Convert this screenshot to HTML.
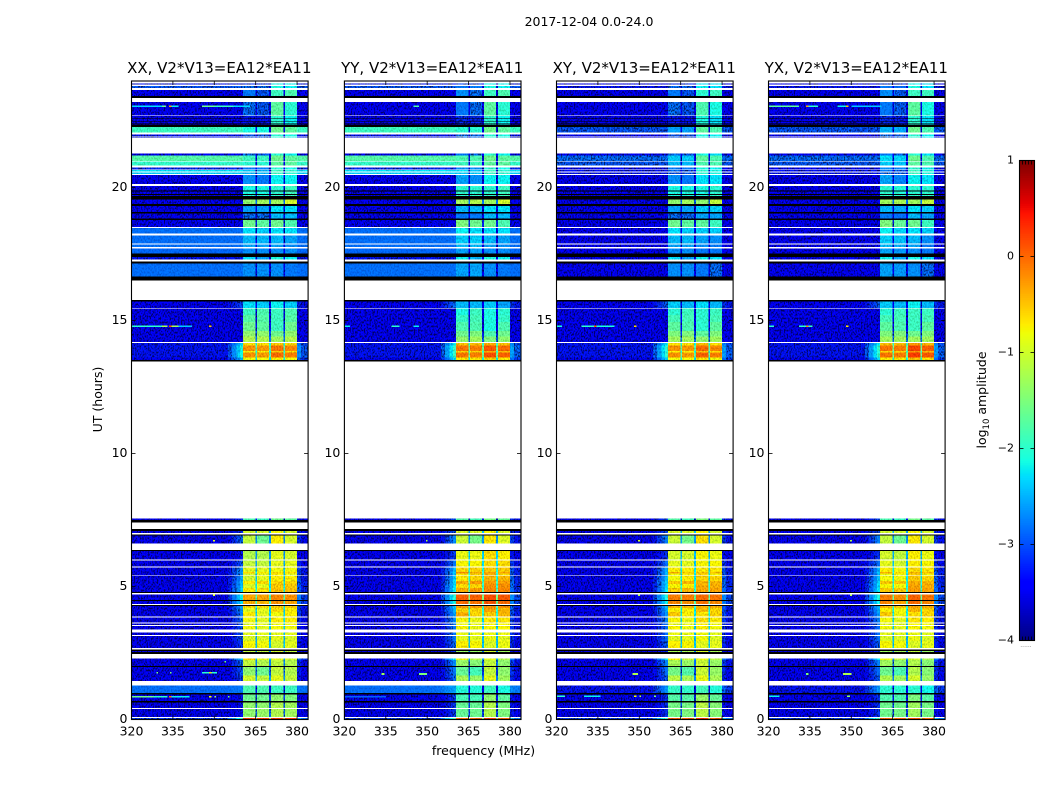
<!DOCTYPE html>
<html lang="en">
<head>
<meta charset="utf-8">
<title>2017-12-04 amplitude waterfall</title>
<style>
html,body{margin:0;padding:0;background:#fff;width:1050px;height:800px;overflow:hidden}
svg{display:block;font-family:"DejaVu Sans","Liberation Sans",sans-serif;fill:#000}
</style>
</head>
<body>
<svg id="figure" width="1050" height="800" viewBox="0 0 1050 800" xmlns="http://www.w3.org/2000/svg">
<defs>
<filter id="grain" filterUnits="userSpaceOnUse" x="0" y="0" width="1050" height="800" color-interpolation-filters="sRGB">
<feTurbulence type="fractalNoise" baseFrequency="0.7 0.5" numOctaves="2" seed="4" result="t"/>
<feColorMatrix in="t" type="matrix" values="3 0 0 0 -1  3 0 0 0 -1  3 0 0 0 -1  0 0 0 0 1" result="n"/>
<feComposite in="SourceGraphic" in2="n" operator="arithmetic" k1="1" k2="0.4" k3="0" k4="0" result="lit"/>
<feTurbulence type="fractalNoise" baseFrequency="0.6 0.45" numOctaves="2" seed="11" result="t2"/>
<feColorMatrix in="t2" type="matrix" values="0 0 0 0 0  4.5 0 0 0 -2.35  0 0 0 0 0  0 0 0 0 0" result="g"/>
<feComposite in="lit" in2="g" operator="arithmetic" k1="0" k2="1" k3="1" k4="0"/>
</filter>
<filter id="grain-soft" filterUnits="userSpaceOnUse" x="0" y="0" width="1050" height="800" color-interpolation-filters="sRGB">
<feTurbulence type="fractalNoise" baseFrequency="0.7 0.5" numOctaves="2" seed="7" result="t"/>
<feColorMatrix in="t" type="matrix" values="3 0 0 0 -1  3 0 0 0 -1  3 0 0 0 -1  0 0 0 0 1" result="n"/>
<feComposite in="SourceGraphic" in2="n" operator="arithmetic" k1="0.3" k2="0.85" k3="0" k4="0"/>
</filter>
</defs>
<text x="589" y="26" font-size="12.5" text-anchor="middle">2017-12-04 0.0-24.0</text>
<text x="483.5" y="755" font-size="12.5" text-anchor="middle">frequency (MHz)</text>
<text transform="translate(102,399.5) rotate(-90)" font-size="12.5" text-anchor="middle">UT (hours)</text>
<text transform="translate(986,400) rotate(-90)" font-size="12.5" text-anchor="middle">log<tspan font-size="8.5" dy="3">10</tspan><tspan dy="-3"> amplitude</tspan></text>
<g id="panels"></g>
<g id="colorbar"></g>
</svg>
<script>
const panelTitles = ["XX, V2*V13=EA12*EA11", "YY, V2*V13=EA12*EA11", "XY, V2*V13=EA12*EA11", "YX, V2*V13=EA12*EA11"];
const freqTicks = [320, 335, 350, 365, 380];
const hourTicks = [0, 5, 10, 15, 20];
const colorTicks = [-4, -3, -2, -1, 0, 1];
const colorTickLabels = ["\u22124", "\u22123", "\u22122", "\u22121", "0", "1"];

// Each band: [start hour, end hour, background (XX/YY), background (XY/YX), shoulder, ch1, ch2, ch3, ch4] in log10 amplitude
const upperBands = [
[23.91,23.86,-3.3,-3.4,-3.3,-3.2,-3.2,-2.2,-2.2],
[23.81,23.74,-3.0,-3.3,-3.0,-2.9,-2.9,-2.1,-2.2],
[23.66,23.44,-3.4,-3.5,-3.3,-2.8,-3.0,-1.9,-1.8],
[23.21,22.71,-3.4,-3.4,-3.3,-2.9,-3.0,-1.7,-2.0],
[22.68,22.35,-3.5,-3.5,-3.5,-3.3,-3.3,-2.0,-2.2],
[22.28,22.06,-1.9,-3.0,-2.0,-2.1,-2.1,-1.6,-1.7],
[21.98,21.94,-3.3,-3.4,-3.2,-3.0,-3.0,-2.0,-2.1],
[21.91,21.88,-3.3,-3.4,-3.2,-3.0,-3.0,-2.0,-2.1],
[21.28,21.20,-3.4,-3.5,-3.3,-2.9,-3.0,-2.0,-2.2],
[21.20,21.00,-1.75,-2.9,-1.8,-1.9,-1.9,-1.6,-1.7],
[20.97,20.83,-1.95,-3.0,-2.0,-2.0,-2.0,-1.7,-1.7],
[20.75,20.68,-3.2,-3.4,-3.1,-2.8,-2.8,-2.0,-2.1],
[20.65,20.60,-2.3,-3.3,-2.4,-2.4,-2.5,-1.9,-2.0],
[20.56,20.50,-2.4,-3.3,-2.5,-2.5,-2.5,-1.9,-2.0],
[20.46,20.12,-3.4,-3.5,-3.3,-2.7,-2.8,-2.2,-2.2],
[20.05,19.67,-3.5,-3.5,-3.4,-2.1,-2.1,-2.0,-1.9],
[19.55,19.37,-3.4,-3.5,-3.3,-1.4,-1.3,-1.3,-1.0],
[19.30,19.08,-3.5,-3.5,-3.4,-2.6,-2.6,-2.3,-2.3],
[19.02,18.83,-3.5,-3.5,-3.5,-2.9,-2.9,-2.5,-2.5],
[18.77,18.52,-3.4,-3.5,-3.3,-1.6,-1.7,-1.6,-1.8],
[18.48,18.27,-2.85,-3.4,-2.8,-2.3,-2.4,-2.3,-2.3],
[18.20,17.89,-2.85,-3.4,-2.8,-2.5,-2.5,-2.5,-2.6],
[17.85,17.77,-2.85,-3.4,-2.8,-2.6,-2.6,-2.6,-2.7],
[17.70,17.52,-2.88,-3.4,-2.88,-2.7,-2.7,-2.7,-2.7],
[17.39,17.29,-3.3,-3.5,-3.2,-2.3,-2.6,-2.1,-2.2],
[17.14,16.66,-2.85,-3.4,-2.8,-2.7,-2.7,-2.7,-2.8]
];
const middleBands = [
[15.71,15.47,-3.4,-3.4,-3.1,-2.3,-2.4,-2.2,-2.4],
[15.44,15.20,-3.5,-3.5,-3.5,-1.9,-1.8,-1.9,-1.8],
[15.20,14.95,-3.5,-3.5,-3.5,-1.75,-1.75,-1.9,-1.75],
[14.95,14.60,-3.5,-3.5,-3.5,-1.6,-1.7,-1.9,-1.6],
[14.60,14.40,-3.5,-3.5,-3.5,-1.4,-1.4,-1.6,-1.4],
[14.40,14.19,-3.5,-3.5,-3.4,-1.2,-1.2,-1.3,-1.2],
[14.16,14.05,-3.3,-3.3,-2.4,-0.6,-0.6,-0.5,-0.6],
[14.05,13.85,-3.3,-3.3,-2.1,-0.2,-0.25,-0.05,-0.15],
[13.85,13.80,-3.3,-3.3,-2.2,-0.7,-0.7,-0.5,-0.6],
[13.80,13.60,-3.3,-3.3,-2.1,-0.2,-0.25,0,-0.1],
[13.60,13.52,-3.4,-3.4,-2.5,-0.8,-0.8,-0.7,-0.8]
];
const lowerBands = [
[7.55,7.49,-3.4,-3.4,-3.2,-1.8,-1.9,-1.6,-1.7],
[7.09,7.01,-3.4,-3.4,-3.2,-1.0,-1.0,-0.8,-1.0],
[6.91,6.61,-3.5,-3.5,-2.9,-1.1,-1.6,-0.7,-1.0],
[6.33,6.01,-3.5,-3.5,-3.3,-1.2,-1.2,-0.9,-1.0],
[5.97,5.76,-3.5,-3.5,-3.0,-1.1,-1.1,-0.9,-0.9],
[5.71,5.55,-3.5,-3.5,-2.7,-0.9,-0.9,-0.8,-0.8],
[5.55,5.48,-3.5,-3.5,-2.6,-0.55,-0.7,-0.6,-0.6],
[5.48,5.42,-3.5,-3.5,-2.7,-1.0,-0.9,-0.7,-0.9],
[5.39,5.20,-3.5,-3.5,-2.6,-1.0,-0.9,-0.7,-0.7],
[5.20,5.10,-3.5,-3.5,-2.5,-0.7,-0.6,-0.55,-0.55],
[5.10,4.95,-3.5,-3.5,-2.5,-0.95,-0.9,-0.5,-0.5],
[4.95,4.79,-3.5,-3.5,-2.4,-0.7,-0.6,-0.45,-0.45],
[4.70,4.50,-3.4,-3.4,-2.2,-0.3,-0.3,-0.15,-0.2],
[4.46,4.35,-3.4,-3.4,-2.3,-0.35,-0.4,-0.2,-0.3],
[4.27,4.20,-3.5,-3.5,-2.6,-0.6,-0.6,-0.5,-0.5],
[4.20,4.05,-3.5,-3.5,-2.7,-0.9,-0.9,-0.6,-0.7],
[4.05,3.87,-3.5,-3.5,-2.8,-0.7,-0.9,-0.8,-0.7],
[3.84,3.64,-3.5,-3.5,-2.9,-0.8,-0.9,-0.7,-0.7],
[3.60,3.55,-3.5,-3.5,-3.0,-0.9,-0.9,-0.8,-0.8],
[3.51,3.39,-3.5,-3.5,-3.0,-0.8,-0.9,-0.8,-0.8],
[3.27,3.17,-3.5,-3.5,-3.0,-0.9,-0.9,-0.9,-0.9],
[3.13,2.95,-3.5,-3.5,-3.0,-0.95,-0.95,-0.9,-0.95],
[2.95,2.68,-3.5,-3.5,-3.1,-0.75,-0.8,-1.0,-0.9],
[2.58,2.53,-3.5,-3.5,-3.3,-1.1,-1.1,-1.0,-1.1],
[2.29,2.24,-3.4,-3.4,-2.4,-0.6,-0.9,-0.9,-1.0],
[2.24,2.02,-3.5,-3.5,-2.9,-1.1,-1.2,-1.1,-1.2],
[1.97,1.65,-3.5,-3.5,-3.0,-1.4,-1.6,-1.1,-1.2],
[1.65,1.44,-3.5,-3.5,-3.1,-1.0,-1.1,-0.9,-1.1],
[1.28,0.99,-2.85,-3.3,-2.8,-1.8,-1.8,-1.9,-1.9],
[0.94,0.69,-3.5,-3.5,-3.3,-1.6,-1.6,-1.4,-1.5],
[0.64,0.44,-3.5,-3.5,-3.3,-1.4,-1.4,-1.2,-1.3],
[0.40,0.09,-3.5,-3.5,-3.3,-1.4,-1.35,-1.2,-1.3],
[0.05,0.00,-3.1,-3.1,-2.0,0.25,0.25,0.25,0.25]
];
// Fully black flagged rows: [start hour, end hour]
const blackBands = [
[23.44,23.36],[22.60,22.57],[22.50,22.47],[22.40,22.37],[22.35,22.28],[19.88,19.85],[19.75,19.72],
[19.67,19.55],[19.37,19.30],[19.08,19.02],[18.83,18.77],[17.52,17.39],[17.22,17.14],[16.66,16.51],
[15.76,15.71],[13.52,13.45],[7.49,7.41],[7.16,7.09],[6.96,6.91],[6.38,6.33],[4.79,4.75],[4.50,4.46],
[4.31,4.27],[2.63,2.58],[2.53,2.47],[2.02,1.97],[0.99,0.94],[0.69,0.64]
];
// Per-polarisation channel offsets: upper, middle-cool, middle-hot, lower-hot, lower, lower-cool
const xxOffsets = [[0,0,0,0],[0,0,0,0],[0,0,0,0],[0,0,0,0],[0,0,0,0],[0,0,0,0]];
const yyOffsets = [[0.1,0.1,0,0],[-0.2,-0.1,-0.2,-0.2],[0.15,0.15,0.15,0.15],[0.35,0.35,0.3,0.3],[0.05,0.05,0.05,0.05],[-0.25,-0.25,0,-0.2]];
const xyOffsets = [[0,0,-0.1,-0.1],[-0.1,-0.1,-0.1,-0.1],[0,0,0.05,0],[0.2,0.2,0.15,0.15],[0.05,0.05,0.1,0],[-0.15,-0.15,0.05,-0.15]];
const yxOffsets = [[0.1,0.05,0,-0.1],[-0.1,-0.1,0,-0.1],[0.15,0.15,0.25,0.2],[0.2,0.1,0.2,0.15],[0,0,0.05,0],[-0.2,-0.2,-0.1,-0.25]];
const shoulderOffsets = [0, 0.2, 0.15, 0.15];
// Narrow interference: [hour, start MHz, end MHz, value]
const xxRfi = [[23.05,320,331,-2.3],[23.05,331,332.5,-1.6],[23.05,333.5,334.5,-0.3],[23.05,334.5,337,-2.2],[23.05,345.5,350,-1.6],[23.05,350,357,-1.9],[23.05,357,363,-2.3],[14.78,320,331,-2.0],[14.78,331,333,-1.2],[14.78,333.5,334.5,0.2],[14.78,334.5,337,-1.3],[14.78,337,342,-2.4],[14.78,348,349,-0.5],[6.72,349.6,350.2,-0.9],[4.67,349.6,350.2,-0.9],[2.17,353.7,354.3,-1.6],[1.75,329,329.6,-1.5],[1.75,334,334.5,-1.5],[1.75,345.5,351,-2.0],[1.75,348,349,-0.6],[0.85,320,328,-1.6],[0.85,328,333,-2.0],[0.85,333.5,334.5,0],[0.85,334.5,341,-2.2],[0.85,348,349,-0.8],[0.85,350,350.7,-1.3],[0.85,355,355.6,-1.5]];
const yyRfi = [[23.05,345,347,-1.8],[14.78,320,322,-2.2],[14.78,337,340,-2.0],[14.78,345,347,-2.2],[6.72,349.6,350.2,-1.2],[1.71,333.5,334.5,-1.3],[1.71,347,350,-1.5],[0.85,320,335,-2.9]];
const xyRfi = [[14.78,320,322,-2.1],[14.78,329,333.5,-2.0],[14.78,333.5,334.5,0.1],[14.78,334.5,341,-2.1],[14.78,348,349,-0.6],[6.72,349.6,350.2,-1.0],[4.67,349.6,350.2,-1.2],[1.71,347.5,349.5,-1.2],[0.88,348,349,-0.8],[0.88,350,350.6,-1.2],[0.88,355.4,356,-1.5],[0.88,320,323,-2.0],[0.88,330,336,-2.2]];
const yxRfi = [[23.05,320,331,-1.7],[23.05,333.5,334.5,-0.3],[23.05,334.5,338,-2.0],[23.05,345,349,-2.2],[23.05,348,349,-0.5],[23.05,350,361,-2.4],[14.78,320,322,-2.0],[14.78,331,333.5,-2.0],[14.78,333.5,334.5,-0.2],[14.78,334.5,336,-2.0],[14.78,348,349,-0.7],[6.72,349.6,350.2,-1.2],[4.67,349.6,350.2,-1.2],[1.71,333.5,334.5,-1.5],[1.71,347,350,-1.2],[0.88,348.5,349.5,-1.4],[0.88,320,324,-2.2]];

const panelOffsets = [xxOffsets, yyOffsets, xyOffsets, yxOffsets];
const panelRfi = [xxRfi, yyRfi, xyRfi, yxRfi];
const panelLeft = [131.5, 344.4, 556.5, 768.5];
const NS = "http://www.w3.org/2000/svg";
const panelsRoot = document.getElementById("panels");
const colorbarRoot = document.getElementById("colorbar");

const plotTop = 81, plotBottom = 719.5, plotWidth = 176.6;
function yScale(hour) { return plotBottom - hour * (plotBottom - plotTop) / 24; }
function xScale(freq, left) { return left + (freq - 320) * plotWidth / 64; }

function ramp(pts, t) {
  for (let i = 1; i < pts.length; i++) {
    if (t <= pts[i][0]) {
      const a = pts[i - 1], b = pts[i];
      return a[1] + (b[1] - a[1]) * (t - a[0]) / (b[0] - a[0]);
    }
  }
  return pts[pts.length - 1][1];
}
function jet(v) {
  const t = Math.max(0, Math.min(1, (v + 4) / 5));
  const r = ramp([[0,0],[0.35,0],[0.66,1],[0.89,1],[1,0.5]], t);
  const g = ramp([[0,0],[0.125,0],[0.375,1],[0.64,1],[0.91,0],[1,0]], t);
  const b = ramp([[0,0.5],[0.11,1],[0.34,1],[0.65,0],[1,0]], t);
  return "rgb(" + Math.round(r * 255) + "," + Math.round(g * 255) + "," + Math.round(b * 255) + ")";
}

function addCell(parent, f0, f1, h0, h1, left, color) {
  const cell = document.createElementNS(NS, "rect");
  
  
  const x0 = xScale(f0, left), x1 = xScale(f1, left);
  cell.setAttribute("x", x0.toFixed(2));
  cell.setAttribute("width", (x1 - x0).toFixed(2));
  cell.setAttribute("y", yScale(h0).toFixed(2));
  cell.setAttribute("height", (yScale(h1) - yScale(h0)).toFixed(2));
  cell.setAttribute("fill", color);
  cell.setAttribute("shape-rendering", "crispEdges");
  parent.appendChild(cell);
}
function addLine(parent, name, x1, y1, x2, y2, width) {
  const line = document.createElementNS(NS, "line");
  
  
  line.setAttribute("x1", x1);
  line.setAttribute("y1", y1);
  line.setAttribute("x2", x2);
  line.setAttribute("y2", y2);
  line.setAttribute("stroke", "#000");
  line.setAttribute("stroke-width", width);
  parent.appendChild(line);
}
function addText(parent, name, x, y, size, anchor, content) {
  const label = document.createElementNS(NS, "text");
  
  
  label.setAttribute("x", x);
  label.setAttribute("y", y);
  label.setAttribute("font-size", size);
  label.setAttribute("text-anchor", anchor);
  label.textContent = content;
  parent.appendChild(label);
}
function addLayer(parent, name, filterId) {
  const layer = document.createElementNS(NS, "g");
  
  
  if (filterId) layer.setAttribute("filter", "url(#" + filterId + ")");
  parent.appendChild(layer);
  return layer;
}

function regionIndex(hi) {
  if (hi >= 16) return 0;
  if (hi > 14.18) return 1;
  if (hi >= 13) return 2;
  if (hi > 6.4) return 4;
  if (hi > 3.86) return 3;
  if (hi > 2.7) return 4;
  return 5;
}

function drawBand(speckled, smooth, band, p, left) {
  const region = regionIndex(band[0]);
  const off = panelOffsets[p][region];
  const bg = band[p < 2 ? 2 : 3];
  let sh = band[4] > -3.4 ? band[4] + shoulderOffsets[p] : band[4];
  if (region === 0) sh = bg;
  const c = [band[5] + off[0], band[6] + off[1], band[7] + off[2], band[8] + off[3]];
  if (region === 0 && p >= 2 && band[2] > -2.5) {
    c[0] -= 0.5;
    c[1] -= 0.5;
  }
  const gap = Math.max(-3.4, (c[0] + c[1] + c[2] + c[3]) / 4 - 1.6);
  const segments = [
    [320, 355, bg],
    [355, 356.5, bg + (sh - bg) * 0.25],
    [356.5, 358, bg + (sh - bg) * 0.5],
    [358, 359.3, bg + (sh - bg) * 0.75],
    [359.3, 360.4, sh],
    [360.4, 365, c[0]], [365, 365.5, gap], [365.5, 369.9, c[1]], [369.9, 370.6, gap],
    [370.6, 375, c[2]], [375, 375.6, gap], [375.6, 380, c[3]],
    [380, 381.5, (bg + sh) / 2], [381.5, 384, bg + (sh - bg) * 0.25]
  ];
  segments.forEach(function (s) {
    addCell(s[2] > -2.9 ? smooth : speckled, s[0], s[1], band[0], band[1], left, jet(s[2]));
  });
}

panelTitles.forEach(function (title, p) {
  const left = panelLeft[p];
  const right = left + plotWidth;
  const panel = document.createElementNS(NS, "g");
  
  
  panelsRoot.appendChild(panel);

  const speckled = addLayer(panel, "heatmap-noisy-cells", "grain");
  const smooth = addLayer(panel, "heatmap-bright-cells", "grain-soft");
  const flagged = addLayer(panel, "heatmap-flagged-rows", null);

  upperBands.forEach(function (b) { drawBand(speckled, smooth, b, p, left); });
  middleBands.forEach(function (b) { drawBand(speckled, smooth, b, p, left); });
  lowerBands.forEach(function (b) { drawBand(speckled, smooth, b, p, left); });
  panelRfi[p].forEach(function (r) {
    addCell(flagged, r[1], r[2], r[0] + 0.03, r[0] - 0.03, left, jet(r[3]));
  });
  blackBands.forEach(function (b) {
    addCell(flagged, 320, 384, b[0], b[1], left, "#000");
  });

  const frame = document.createElementNS(NS, "rect");
  
  
  frame.setAttribute("x", left);
  frame.setAttribute("y", plotTop);
  frame.setAttribute("width", plotWidth);
  frame.setAttribute("height", plotBottom - plotTop);
  frame.setAttribute("fill", "none");
  frame.setAttribute("stroke", "#000");
  frame.setAttribute("stroke-width", "1.1");
  panel.appendChild(frame);

  freqTicks.forEach(function (f) {
    const x = xScale(f, left);
    addLine(panel, "x-tick", x, plotBottom, x, plotBottom - 4, 0.8);
    addLine(panel, "x-tick-top", x, plotTop, x, plotTop + 4, 0.8);
    addText(panel, "x-tick-label", x, 735.5, 12.5, "middle", String(f));
  });
  hourTicks.forEach(function (h) {
    const y = yScale(h);
    addLine(panel, "y-tick", left, y, left + 4, y, 0.8);
    addLine(panel, "y-tick-right", right, y, right - 4, y, 0.8);
    addText(panel, "y-tick-label", left - 4, y + 3.5, 12.5, "end", String(h));
  });
  addText(panel, "panel-title", left + plotWidth / 2 - 0.5, 73, 15, "middle", title);
});

const barLeft = 1019.5, barWidth = 15, barTop = 160.5, barBottom = 640.5;
function barY(v) { return barBottom - (v + 4) * (barBottom - barTop) / 5; }
for (let i = 0; i < 256; i++) {
  const step = document.createElementNS(NS, "rect");
  
  
  const v0 = -4 + 5 * i / 256, v1 = -4 + 5 * (i + 1) / 256;
  step.setAttribute("x", barLeft);
  step.setAttribute("y", barY(v1).toFixed(2));
  step.setAttribute("width", barWidth);
  step.setAttribute("height", (barY(v0) - barY(v1) + 0.5).toFixed(2));
  step.setAttribute("fill", jet((v0 + v1) / 2));
  step.setAttribute("shape-rendering", "crispEdges");
  colorbarRoot.appendChild(step);
}
const barFrame = document.createElementNS(NS, "rect");


barFrame.setAttribute("x", barLeft);
barFrame.setAttribute("y", barTop);
barFrame.setAttribute("width", barWidth);
barFrame.setAttribute("height", barBottom - barTop);
barFrame.setAttribute("fill", "none");
barFrame.setAttribute("stroke", "#000");
barFrame.setAttribute("stroke-width", "1.1");
colorbarRoot.appendChild(barFrame);
colorTicks.forEach(function (v, i) {
  const y = barY(v);
  addLine(colorbarRoot, "colorbar-tick", barLeft, y, barLeft + 4, y, 0.8);
  addLine(colorbarRoot, "colorbar-tick-right", barLeft + barWidth, y, barLeft + barWidth - 4, y, 0.8);
  addText(colorbarRoot, "colorbar-tick-label", 1014, y + 3, 11, "end", colorTickLabels[i]);
});
for (let k = 1; k < 5; k++) {
  const x = barLeft + k * barWidth / 5;
  addLine(colorbarRoot, "colorbar-minor-tick", x, barTop, x, barTop + 4, 0.8);
  addLine(colorbarRoot, "colorbar-minor-tick", x, barBottom, x, barBottom - 4, 0.8);
}
addText(colorbarRoot, "colorbar-minor-labels", 1026, 647, 6, "middle", "......");
colorbarRoot.lastChild.setAttribute("fill", "#777");
</script>
</body>
</html>
